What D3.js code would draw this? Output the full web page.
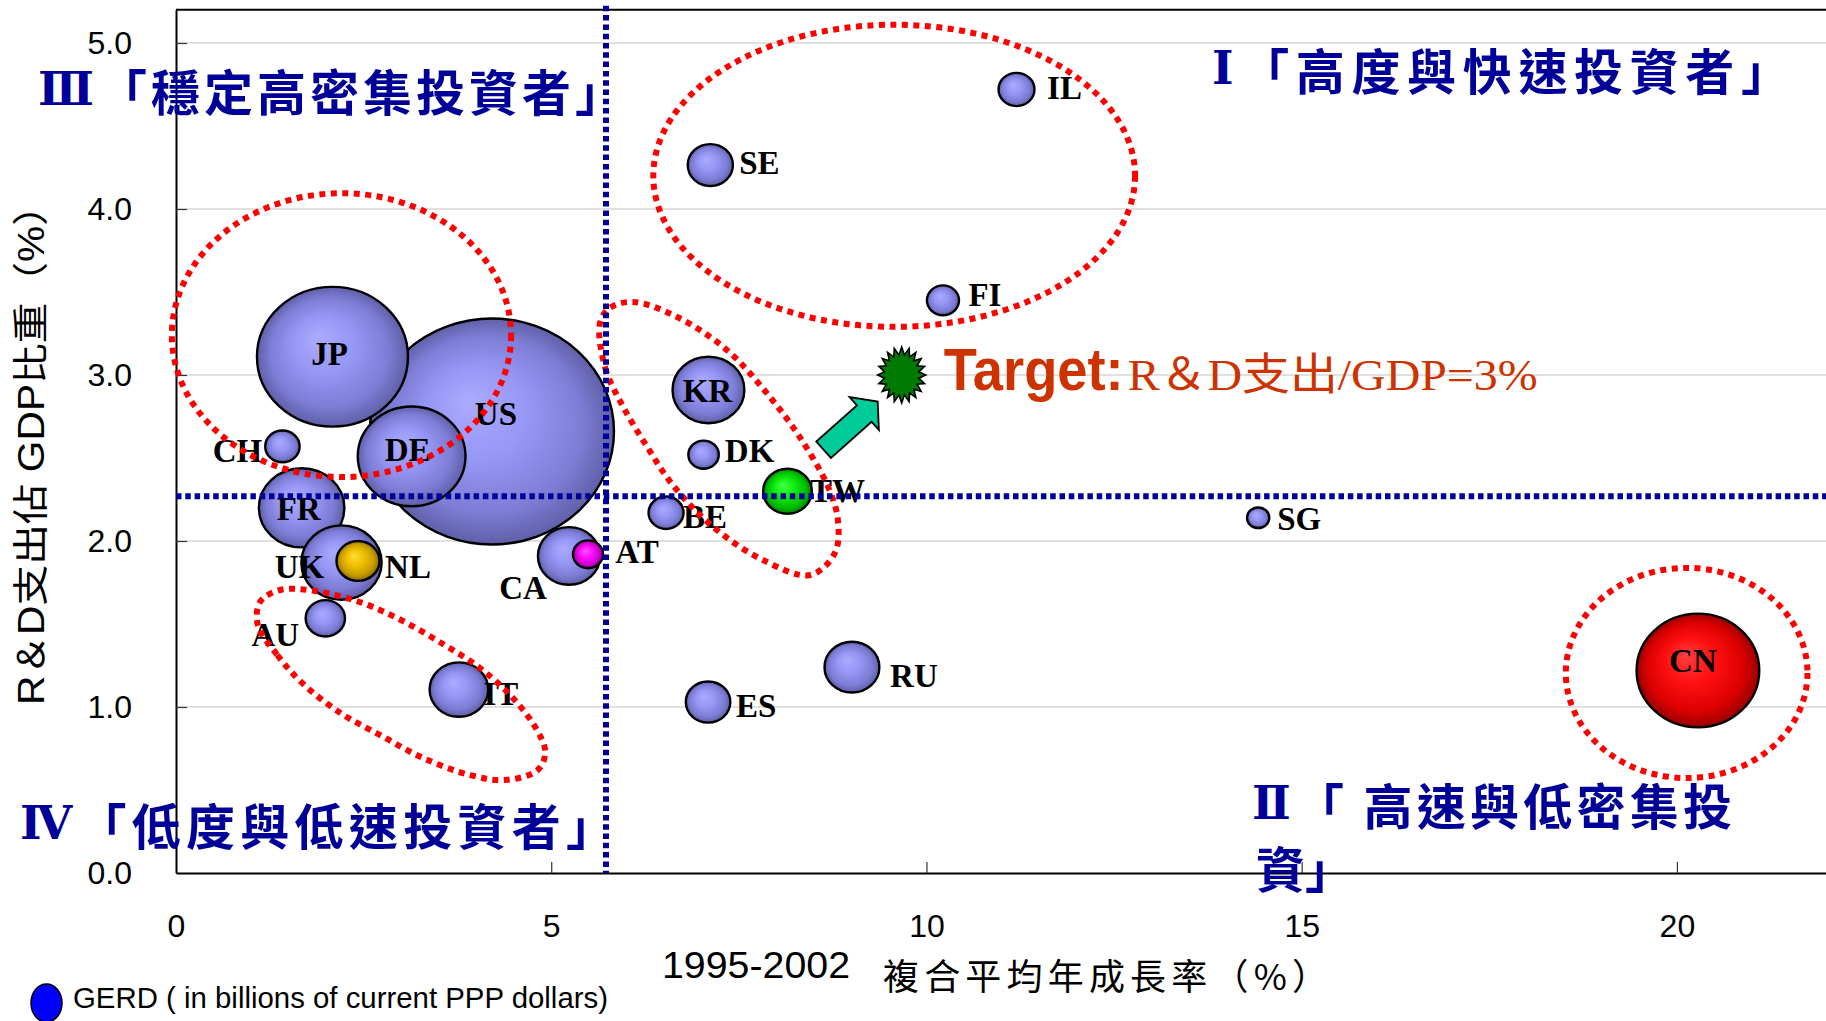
<!DOCTYPE html>
<html>
<head>
<meta charset="utf-8">
<script src="https://cdn.jsdelivr.net/npm/d3@7"></script>
<style>
  html, body { margin: 0; padding: 0; background: #fff; }
  svg { display: block; }
</style>
</head>
<body>
<svg id="chart" width="1826" height="1021"></svg>
<script>
// ---- data -------------------------------------------------------------
const countries    = ["US", "JP", "CN", "DE", "FR", "UK", "KR", "CA", "IT", "RU", "TW",
                      "SE", "ES", "NL", "AU", "IL", "BE", "CH", "FI", "DK", "AT", "SG"];
// 1995-2002 compound average annual growth of GERD (%)
const growthRate   = [4.21, 2.085, 20.28, 3.14, 1.674, 2.205, 7.095, 5.237, 3.77, 9.007, 8.148,
                      7.12, 7.09, 2.425, 1.99, 11.20, 6.53, 1.418, 10.22, 7.03, 5.49, 14.42];
// GERD as a share of GDP (%)
const rdIntensity  = [2.66, 3.11, 1.22, 2.51, 2.20, 1.87, 2.91, 1.91, 1.105, 1.24, 2.30,
                      4.265, 1.03, 1.88, 1.534, 4.72, 2.17, 2.57, 3.45, 2.52, 1.92, 2.14];
// GERD, billions of current PPP dollars (bubble area)
const gerdBillions = [277, 106, 70, 54, 34, 30, 24, 18, 16, 14, 11,
                      9.5, 9.2, 8.6, 7.2, 6.0, 5.7, 5.5, 4.8, 4.3, 4.2, 2.3];

const xTickValues = [0, 5, 10, 15, 20];
const yTickValues = [0, 1, 2, 3, 4, 5];
const avgGrowth = 5.73;      // vertical reference line
const avgIntensity = 2.27;   // horizontal reference line
const targetPoint = [9.67, 3.0];
const arrowFrom = [8.63, 2.55];
const arrowTo = [9.35, 2.84];

// grouping outlines (data units)
const groupEllipses = [
  { cx: 9.57, cy: 4.20, rx: 3.21, ry: 0.91 },   // IL / SE / FI
  { cx: 2.205, cy: 3.24, rx: 2.26, ry: 0.855 }, // JP
  { cx: 20.13, cy: 1.205, rx: 1.61, ry: 0.633 } // CN
];
const groupKR = [[5.65, 3.313], [5.72, 3.042], [5.96, 2.807], [6.28, 2.566], [6.62, 2.337],
  [7.16, 2.084], [7.82, 1.886], [8.45, 1.795], [8.78, 1.928], [8.82, 2.127], [8.69, 2.325],
  [8.31, 2.627], [7.87, 2.892], [7.34, 3.151], [6.68, 3.349], [6.09, 3.44], [5.78, 3.404]];
const groupIT = [[1.09, 1.494], [1.35, 1.313], [1.68, 1.145], [2.19, 0.964], [2.72, 0.831],
  [3.29, 0.693], [3.92, 0.59], [4.38, 0.56], [4.82, 0.62], [4.92, 0.729], [4.81, 0.861],
  [4.49, 1.054], [4.05, 1.235], [3.58, 1.373], [3.05, 1.512], [2.48, 1.627], [1.85, 1.699],
  [1.39, 1.705], [1.12, 1.633]];

// ---- styling ------------------------------------------------------------
const fillKind = { CN: "red", TW: "green", NL: "gold", AT: "magenta" };
const labelOffset = {
  US: [4, -17], JP: [-3, -3], CN: [-5, -9], DE: [-4, -6], FR: [-3, 1], UK: [-42, 4],
  KR: [-1, 1], CA: [-46, 32], IT: [42, 4], RU: [62, 9], TW: [50, 0], SE: [49, -2],
  ES: [48, 4], NL: [50, 6], AU: [-50, 17], IL: [48, -1], BE: [39, 4], CH: [-45, 5],
  FI: [42, -5], DK: [46, -4], AT: [49, -2], SG: [41, 1]
};
const navy = "#000099";
const targetColor = "#cc3300";

const svg = d3.select("#chart");
svg.append("rect").attr("width", 1826).attr("height", 1021).attr("fill", "#fff");

const x = d3.scaleLinear().domain([0, 22]).range([176, 1827]);
const y = d3.scaleLinear().domain([0, 5.2]).range([873, 9.8]);
const r = d3.scaleSqrt().domain([0, 277]).range([0, 113]);
const aspect = 1.08;

// gradients
const defs = svg.append("defs");
const gradientStops = {
  blue:    ["#ababff", "#9797f6", "#7d7dd6", "#5f5fa8"],
  red:     ["#ff4040", "#ff1010", "#dd0000", "#990000"],
  green:   ["#44ff44", "#11ee11", "#00c000", "#008800"],
  gold:    ["#ffdd33", "#f0c000", "#c89c00", "#8a6d00"],
  magenta: ["#ff55ff", "#ff11ff", "#d000d0", "#900090"]
};
Object.entries(gradientStops).forEach(([k, c]) => {
  const g = defs.append("radialGradient").attr("id", "g-" + k)
    .attr("cx", 0.5).attr("cy", 0.5).attr("r", 0.5).attr("fx", 0.4).attr("fy", 0.36);
  [0, 0.4, 0.78, 1].forEach((o, i) => g.append("stop").attr("offset", o).attr("stop-color", c[i]));
});

// gridlines
svg.append("g").selectAll("line").data(yTickValues.filter(v => v > 0)).join("line")
  .attr("x1", x(0)).attr("x2", 1826).attr("y1", d => y(d)).attr("y2", d => y(d))
  .attr("stroke", "#d6d6d6").attr("stroke-width", 1.5);

// top border
svg.append("line").attr("x1", x(0)).attr("x2", 1826).attr("y1", y(5.2)).attr("y2", y(5.2))
  .attr("stroke", "#000").attr("stroke-width", 2);

// axes
const yAxis = d3.axisLeft(y).tickValues(yTickValues).tickFormat(d3.format(".1f"))
  .tickSize(-11).tickSizeOuter(0).tickPadding(44);
const xAxis = d3.axisBottom(x).tickValues(xTickValues).tickFormat(d3.format("d"))
  .tickSize(-11).tickSizeOuter(0).tickPadding(41);
const gy = svg.append("g").attr("transform", `translate(${x(0)},0)`).call(yAxis);
const gx = svg.append("g").attr("transform", `translate(0,${y(0)})`).call(xAxis);
[gx, gy].forEach(g => {
  g.select(".domain").attr("stroke", "#000").attr("stroke-width", 2);
  g.selectAll(".tick line").attr("stroke", "#333").attr("stroke-width", 1.2);
  g.selectAll(".tick text").attr("font-family", "'Liberation Sans', Arial, sans-serif")
    .attr("font-size", 32).attr("fill", "#000");
});
gx.selectAll(".tick").filter(d => d === 0).select("line").remove();
gy.selectAll(".tick").filter(d => d === 0).select("line").remove();

// bubbles
const rows = countries.map((c, i) => ({
  code: c, gx: growthRate[i], gy: rdIntensity[i], size: gerdBillions[i]
})).sort((a, b) => b.size - a.size);

svg.append("g").selectAll("ellipse").data(rows).join("ellipse")
  .attr("cx", d => x(d.gx)).attr("cy", d => y(d.gy))
  .attr("rx", d => r(d.size) * aspect).attr("ry", d => r(d.size))
  .attr("fill", d => `url(#g-${fillKind[d.code] || "blue"})`)
  .attr("stroke", "#000").attr("stroke-width", 2.4);

svg.append("g").selectAll("text").data(rows).join("text")
  .attr("x", d => x(d.gx) + labelOffset[d.code][0])
  .attr("y", d => y(d.gy) + labelOffset[d.code][1])
  .attr("text-anchor", "middle").attr("dominant-baseline", "central")
  .attr("font-family", "'Liberation Serif', 'Times New Roman', serif")
  .attr("font-weight", "bold").attr("font-size", 33).attr("fill", "#000")
  .text(d => d.code);

// red dotted grouping outlines
const red = svg.append("g").attr("fill", "none").attr("stroke", "#ff0000")
  .attr("stroke-width", 6).attr("stroke-dasharray", "6 5.5");
red.selectAll("ellipse").data(groupEllipses).join("ellipse")
  .attr("cx", d => x(d.cx)).attr("cy", d => y(d.cy))
  .attr("rx", d => x(d.rx) - x(0)).attr("ry", d => y(0) - y(d.ry));
const loop = d3.line().x(d => x(d[0])).y(d => y(d[1])).curve(d3.curveCatmullRomClosed.alpha(0.5));
red.selectAll("path").data([groupKR, groupIT]).join("path").attr("d", loop);

// average reference lines
const blue = svg.append("g").attr("stroke", navy).attr("stroke-width", 6)
  .attr("stroke-dasharray", "5.5 3.8");
blue.append("line").attr("x1", x(avgGrowth)).attr("x2", x(avgGrowth))
  .attr("y1", y(5.2) - 4).attr("y2", y(0));
blue.append("line").attr("x1", x(0)).attr("x2", 1826)
  .attr("y1", y(avgIntensity)).attr("y2", y(avgIntensity));

// arrow toward the target
{
  const x0 = x(arrowFrom[0]), y0 = y(arrowFrom[1]);
  const x1 = x(arrowTo[0]), y1 = y(arrowTo[1]);
  const len = Math.hypot(x1 - x0, y1 - y0);
  const ang = Math.atan2(y1 - y0, x1 - x0) * 180 / Math.PI;
  const sw = 11, hw = 22, hl = 18;
  const pts = [[0, -sw], [len - hl, -sw], [len - hl, -hw], [len, 0], [len - hl, hw], [len - hl, sw], [0, sw]];
  svg.append("path")
    .attr("d", d3.line()(pts) + "Z")
    .attr("transform", `translate(${x0},${y0}) rotate(${ang})`)
    .attr("fill", "#00cc99").attr("stroke", "#000").attr("stroke-width", 1.8)
    .attr("stroke-linejoin", "miter");
}

// target burst
{
  const n = 20, pts = [];
  for (let i = 0; i < n * 2; i++) {
    const a = i * Math.PI / n;
    const rr = i % 2 === 0 ? 1 : 0.72;
    pts.push([Math.sin(a) * rr * 24, -Math.cos(a) * rr * 28]);
  }
  svg.append("path")
    .attr("d", d3.line()(pts) + "Z")
    .attr("transform", `translate(${x(targetPoint[0])},${y(targetPoint[1])})`)
    .attr("fill", "#007a00").attr("stroke", "#000").attr("stroke-width", 1.6);

  const tx = x(targetPoint[0]) + 42, ty = y(targetPoint[1]) + 15;
  svg.append("text").attr("x", tx).attr("y", ty)
    .attr("font-family", "'Liberation Sans', Arial, sans-serif").attr("font-weight", "bold")
    .attr("font-size", 60).attr("fill", targetColor)
    .attr("textLength", 180).attr("lengthAdjust", "spacingAndGlyphs").text("Target:");
  svg.append("text").attr("x", tx + 184).attr("y", ty)
    .attr("font-family", "'Liberation Serif', 'Noto Sans CJK TC', serif")
    .attr("font-size", 44).attr("fill", targetColor)
    .attr("textLength", 410).attr("lengthAdjust", "spacingAndGlyphs").text("R＆D支出/GDP=3%");
}

// quadrant captions: roman numeral + bracketed caption
const quadFont = "'Noto Sans CJK TC', 'Noto Sans CJK SC', sans-serif";
const numeralFont = "'DejaVu Serif', 'Liberation Serif', 'Noto Sans CJK TC', serif";
const quads = [
  { n: "Ⅲ", t: "「穩定高密集投資者」", x: 38, y: 89, w: 586 },
  { n: "Ⅰ", t: "「高度與快速投資者」", x: 1212, y: 68, w: 578 },
  { n: "Ⅳ", t: "「低度與低速投資者」", x: 20, y: 823, w: 595 },
  { n: "Ⅱ", t: "「 高速與低密集投", x: 1252, y: 803, w: 480 },
  { n: "", t: "資」", x: 1256, y: 866, w: null }
];
const qt = svg.append("g").selectAll("text").data(quads).join("text")
  .attr("x", d => d.x).attr("y", d => d.y).attr("dominant-baseline", "central")
  .attr("font-family", quadFont).attr("font-weight", "bold").attr("font-size", 49)
  .attr("fill", navy)
  .each(function (d) {
    const t = d3.select(this);
    if (d.w) t.attr("textLength", d.w).attr("lengthAdjust", "spacing");
    if (d.n) t.append("tspan").attr("font-family", numeralFont).attr("font-size", 46).text(d.n);
    t.append("tspan").text(d.t);
  });

// axis titles
svg.append("text")
  .attr("transform", "translate(31,445) rotate(-90)")
  .attr("text-anchor", "middle").attr("dominant-baseline", "central")
  .attr("font-family", "'Liberation Sans', 'Noto Sans CJK TC', sans-serif")
  .attr("font-size", 36).attr("fill", "#000")
  .attr("textLength", 520).attr("lengthAdjust", "spacingAndGlyphs")
  .text("R＆D支出佔 GDP比重（%）");

svg.append("text").attr("x", 662).attr("y", 978)
  .attr("font-family", "'Liberation Sans', Arial, sans-serif").attr("font-size", 37)
  .attr("fill", "#000").attr("textLength", 188).attr("lengthAdjust", "spacingAndGlyphs")
  .text("1995-2002");
svg.append("text").attr("x", 883).attr("y", 974).attr("dominant-baseline", "central")
  .attr("font-family", "'Noto Sans CJK TC', sans-serif").attr("font-size", 36)
  .attr("fill", "#000").attr("textLength", 445).attr("lengthAdjust", "spacing")
  .text("複合平均年成長率（%）");

// legend
svg.append("ellipse").attr("cx", 46.5).attr("cy", 1003).attr("rx", 15.5).attr("ry", 19)
  .attr("fill", "#0000ff").attr("stroke", "#000").attr("stroke-width", 1.5);
svg.append("text").attr("x", 73).attr("y", 1008)
  .attr("font-family", "'Liberation Sans', Arial, sans-serif").attr("font-size", 29)
  .attr("fill", "#000").attr("textLength", 535).attr("lengthAdjust", "spacingAndGlyphs")
  .text("GERD ( in billions of current PPP dollars)");
</script>
</body>
</html>
